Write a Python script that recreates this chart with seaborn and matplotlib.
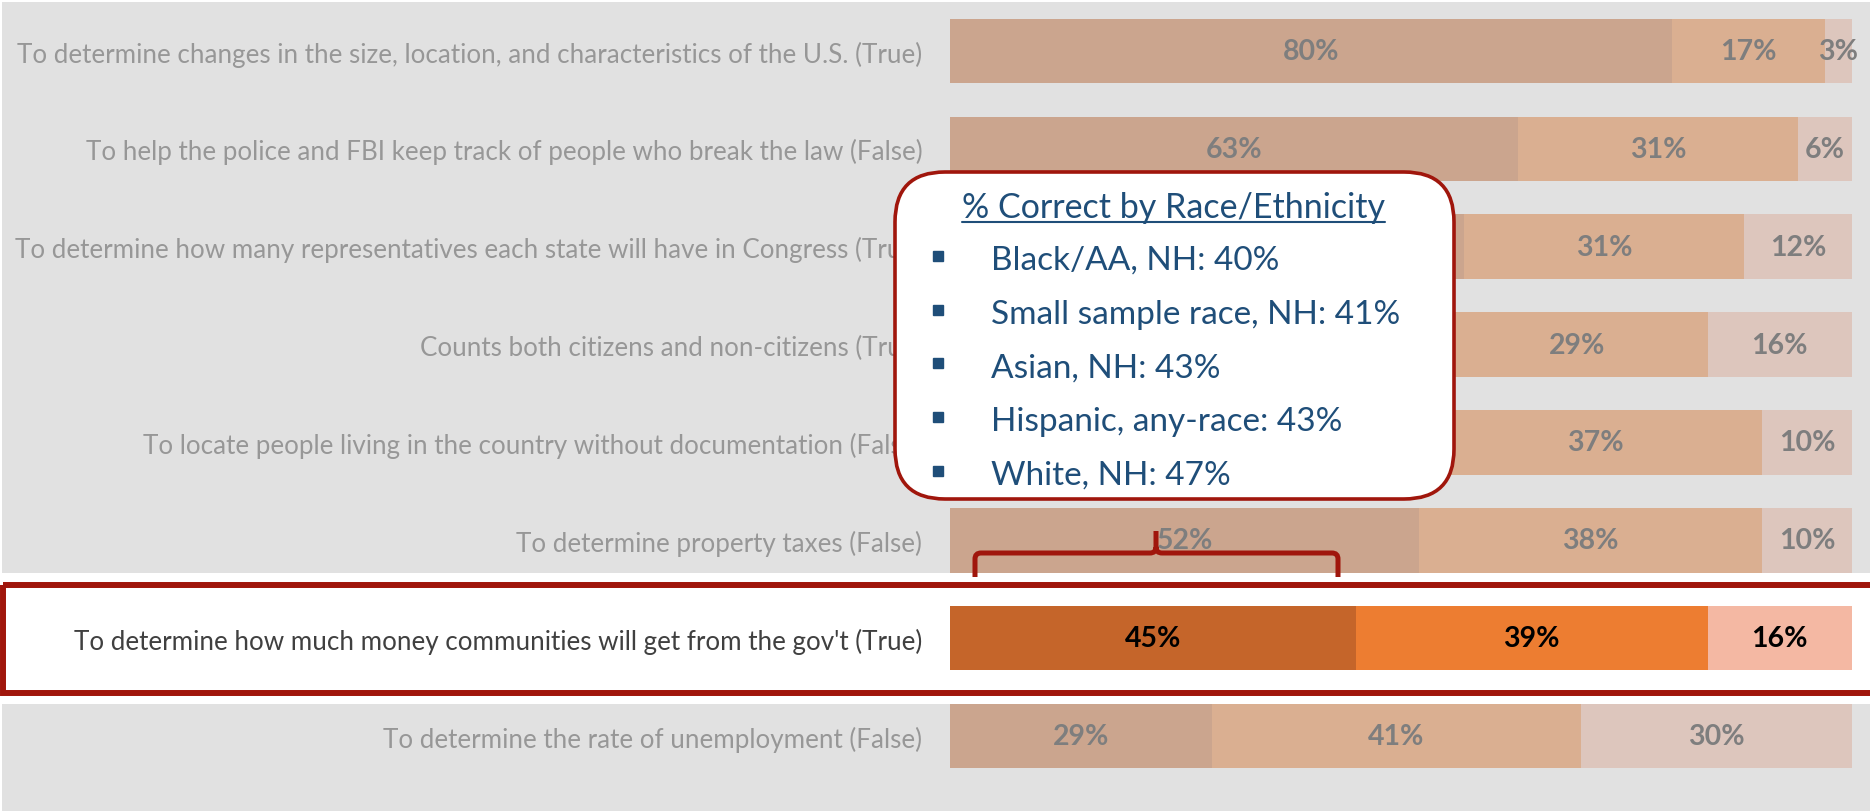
import numpy as np
import pandas as pd
import matplotlib.pyplot as plt
import seaborn as sns
from matplotlib.patches import Rectangle, FancyBboxPatch, PathPatch
from matplotlib.path import Path

sns.set_theme(style="white")
plt.rcParams["font.family"] = ["Lato", "DejaVu Sans"]

# ---------------- data ----------------
questions = [
    "To determine changes in the size, location, and characteristics of the U.S. (True)",
    "To help the police and FBI keep track of people who break the law (False)",
    "To determine how many representatives each state will have in Congress (True)",
    "Counts both citizens and non-citizens (True)",
    "To locate people living in the country without documentation (False)",
    "To determine property taxes (False)",
    "To determine how much money communities will get from the gov't (True)",
    "To determine the rate of unemployment (False)",
]
yes = [80, 63, 57, 55, 53, 52, 45, 29]
no = [17, 31, 31, 29, 37, 38, 39, 41]
not_sure = [3, 6, 12, 16, 10, 10, 16, 30]

race_title = "% Correct by Race/Ethnicity"
race_groups = ["Black/AA, NH", "Small sample race, NH", "Asian, NH",
               "Hispanic, any-race", "White, NH"]
race_correct = [40, 41, 43, 43, 47]

seg_colors = ["#C5652A", "#ED7D31", "#F4B8A3"]
red = "#A0160C"
blue = "#1F4E79"

df = pd.DataFrame({"question": questions, "yes": yes, "no": no, "not_sure": not_sure})
df["yes_no"] = df["yes"] + df["no"]
df["total"] = df["yes_no"] + df["not_sure"]

# ---------------- figure ----------------
W, H = 1870, 812
fig = plt.figure(figsize=(W / 100, H / 100), dpi=100)
fig.patch.set_facecolor("white")

ax = fig.add_axes([950 / W, 0, 902 / W, 1])
ax.patch.set_alpha(0)

# stacked bars: draw cumulative totals back to front
for col, c in zip(["total", "yes_no", "yes"], seg_colors[::-1]):
    sns.barplot(data=df, x=col, y="question", color=c, saturation=1,
                width=0.66, orient="h", linewidth=0, ax=ax)

for i, row in df.iterrows():
    left = 0
    for v in (row["yes"], row["no"], row["not_sure"]):
        ax.text(left + v / 2, i, f"{v}%", ha="center", va="center",
                fontsize=20.5, fontweight="bold", color="black")
        left += v

ax.set_xlim(0, 100)
ax.set_ylim(7.766, -0.531)
ax.set_xlabel("")
ax.set_ylabel("")
ax.set_xticks([])
ax.tick_params(axis="y", length=0, pad=20, labelsize=18.7, labelcolor="#404040")
sns.despine(ax=ax, left=True, bottom=True)

# ---------------- overlay (pixel coords) ----------------
ov = fig.add_axes([0, 0, 1, 1])
ov.set_xlim(0, W)
ov.set_ylim(H, 0)
ov.axis("off")
ov.patch.set_alpha(0)

# grey veil over everything except the highlighted row
for y0, y1 in [(3, 574), (705, H)]:
    ov.add_patch(Rectangle((2, y0), W, y1 - y0, facecolor="#CFCFCF",
                           alpha=0.61, linewidth=0))

# red highlight frame
ov.add_patch(Rectangle((3, 586), W + 20, 108, fill=False,
                       edgecolor=red, linewidth=4.3))

# bracket under the callout
verts = [(975, 578), (975, 560), (975, 554), (981, 554),
         (1150, 554), (1156, 554), (1156, 548), (1156, 532),
         (1156, 548), (1156, 554), (1162, 554), (1332, 554),
         (1338, 554), (1338, 560), (1338, 578)]
codes = [Path.MOVETO, Path.LINETO, Path.CURVE3, Path.CURVE3,
         Path.LINETO, Path.CURVE3, Path.CURVE3, Path.LINETO,
         Path.MOVETO, Path.CURVE3, Path.CURVE3, Path.LINETO,
         Path.CURVE3, Path.CURVE3, Path.LINETO]
ov.add_patch(PathPatch(Path(verts, codes), fill=False, edgecolor=red,
                       linewidth=3.6, capstyle="butt"))

# callout box
ov.add_patch(FancyBboxPatch((895, 173), 559, 327,
                            boxstyle="round,pad=0,rounding_size=50",
                            facecolor="white", edgecolor=red, linewidth=2.6))

title = ov.text(1173, 218, race_title, ha="center", va="baseline",
                fontsize=24.5, color=blue)
fig.canvas.draw()
bb = title.get_window_extent()
inv = ov.transData.inverted()
(tx0, _), (tx1, _) = inv.transform([[bb.x0, bb.y0], [bb.x1, bb.y1]])
ov.plot([tx0, tx1], [223, 223], color=blue, linewidth=1.5)

for k, (g, v) in enumerate(zip(race_groups, race_correct)):
    base = 270 + 53.7 * k
    ov.plot(938, base - 13, marker="s", markersize=7, color=blue)
    ov.text(991, base, f"{g}: {v}%", ha="left", va="baseline",
            fontsize=24, color=blue)

fig.savefig("out.png", dpi=100)
